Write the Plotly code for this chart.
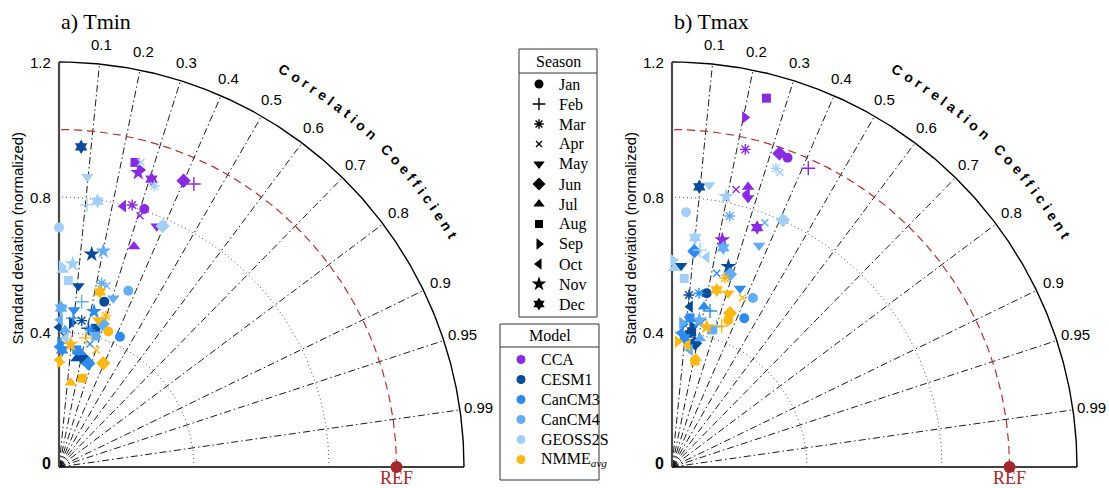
import numpy as np
import plotly.graph_objects as go

# ---------------- data ----------------
months = ["Jan", "Feb", "Mar", "Apr", "May", "Jun", "Jul", "Aug", "Sep", "Oct", "Nov", "Dec"]
month_symbols = ["circle", "cross-thin", "asterisk", "x-thin", "triangle-down", "diamond",
                 "triangle-up", "square", "triangle-right", "triangle-left", "star", "hexagram"]
models = ["CCA", "CESM1", "CanCM3", "CanCM4", "GEOSS2S", "NMME<sub><i>avg</i></sub>"]
model_colors = ["#8a2be2", "#084b98", "#2e8bee", "#62adf5", "#a3cff7", "#fdb913"]
corr_ticks = [0.1, 0.2, 0.3, 0.4, 0.5, 0.6, 0.7, 0.8, 0.9, 0.95, 0.99]
corr_labels = ["0.1", "0.2", "0.3", "0.4", "0.5", "0.6", "0.7", "0.8", "0.9", "0.95", "0.99"]
std_ticks = [0, 0.4, 0.8, 1.2]
std_labels = ["0", "0.4", "0.8", "1.2"]
panel_titles = ["a) Tmin", "b) Tmax"]

# Tmin (normalized std, correlation), Jan..Dec
tmin_cca_std = [0.805, 0.929, 0.806, 0.782, 0.770, 0.925, 0.690, 0.930, 0.914, 0.796, 0.903, 0.896]
tmin_cca_corr = [0.314, 0.430, 0.269, 0.307, 0.376, 0.399, 0.322, 0.242, 0.263, 0.239, 0.260, 0.306]
tmin_cesm1_std = [0.508, 0.420, 0.439, 0.389, 0.539, 0.330, 0.326, 0.425, 0.429, 0.414, 0.638, 0.951]
tmin_cesm1_corr = [0.264, 0.207, 0.153, 0.038, 0.106, 0.218, 0.161, 0.256, 0.088, 0.000, 0.152, 0.069]
tmin_cancm3_std = [0.426, 0.443, 0.416, 0.376, 0.467, 0.319, 0.346, 0.351, 0.367, 0.356, 0.472, 0.347]
tmin_cancm3_corr = [0.424, 0.094, 0.221, 0.244, 0.095, 0.272, 0.180, 0.150, 0.008, 0.000, 0.220, 0.026]
tmin_cancm4_std = [0.561, 0.494, 0.559, 0.555, 0.525, 0.443, 0.406, 0.403, 0.474, 0.436, 0.653, 0.471]
tmin_cancm4_corr = [0.366, 0.136, 0.226, 0.255, 0.306, 0.292, 0.044, 0.270, 0.019, 0.007, 0.201, 0.013]
tmin_geos_std = [0.710, 0.781, 0.879, 0.935, 0.864, 0.777, 0.584, 0.553, 0.594, 0.383, 0.603, 0.796]
tmin_geos_corr = [0.000, 0.106, 0.321, 0.260, 0.097, 0.395, 0.020, 0.050, 0.013, 0.054, 0.067, 0.143]
tmin_nmme_std = [0.427, 0.391, 0.469, 0.364, 0.451, 0.334, 0.252, 0.272, 0.311, 0.317, 0.365, 0.533]
tmin_nmme_corr = [0.342, 0.205, 0.297, 0.302, 0.258, 0.393, 0.137, 0.254, 0.010, 0.000, 0.095, 0.228]

# Tmax
tmax_cca_std = [0.978, 0.973, 0.966, 0.844, 0.828, 0.982, 0.860, 1.128, 1.058, 0.839, 0.689, 0.753]
tmax_cca_corr = [0.350, 0.415, 0.225, 0.225, 0.272, 0.324, 0.262, 0.248, 0.204, 0.265, 0.216, 0.335]
tmax_cesm1_std = [0.525, 0.382, 0.512, 0.438, 0.597, 0.373, 0.394, 0.405, 0.420, 0.478, 0.617, 0.834]
tmax_cesm1_corr = [0.196, 0.171, 0.098, 0.108, 0.045, 0.183, 0.113, 0.144, 0.143, 0.112, 0.271, 0.097]
tmax_cancm3_std = [0.490, 0.476, 0.521, 0.589, 0.566, 0.643, 0.484, 0.445, 0.424, 0.398, 0.438, 0.385]
tmax_cancm3_corr = [0.437, 0.237, 0.154, 0.225, 0.356, 0.103, 0.196, 0.120, 0.079, 0.067, 0.183, 0.095]
tmax_cancm4_std = [0.555, 0.436, 0.763, 0.774, 0.705, 0.596, 0.390, 0.423, 0.428, 0.351, 0.443, 0.667]
tmax_cancm4_corr = [0.432, 0.303, 0.224, 0.355, 0.366, 0.288, 0.213, 0.278, 0.069, 0.152, 0.183, 0.228]
tmax_geos_std = [0.756, 0.648, 0.937, 0.929, 0.843, 0.802, 0.589, 0.560, 0.613, 0.630, 0.817, 0.683]
tmax_geos_corr = [0.055, 0.128, 0.329, 0.344, 0.131, 0.410, 0.012, 0.065, 0.006, 0.163, 0.196, 0.100]
tmax_nmme_std = [0.466, 0.443, 0.581, 0.543, 0.541, 0.487, 0.330, 0.321, 0.372, 0.364, 0.428, 0.541]
tmax_nmme_corr = [0.358, 0.332, 0.270, 0.384, 0.308, 0.353, 0.213, 0.212, 0.045, 0.128, 0.240, 0.245]

panels = [
    [(tmin_cca_std, tmin_cca_corr), (tmin_cesm1_std, tmin_cesm1_corr), (tmin_cancm3_std, tmin_cancm3_corr),
     (tmin_cancm4_std, tmin_cancm4_corr), (tmin_geos_std, tmin_geos_corr), (tmin_nmme_std, tmin_nmme_corr)],
    [(tmax_cca_std, tmax_cca_corr), (tmax_cesm1_std, tmax_cesm1_corr), (tmax_cancm3_std, tmax_cancm3_corr),
     (tmax_cancm4_std, tmax_cancm4_corr), (tmax_geos_std, tmax_geos_corr), (tmax_nmme_std, tmax_nmme_corr)],
]

# ---------------- styling ----------------
W, H = 1109, 488
SCALE = 337.5  # px per unit
ORIGINS = [(59, 467), (672, 467)]
XR = [-0.15, 1.29]
YR = [-0.06, 1.30]
SANS = "Liberation Sans, Arial, sans-serif"
SERIF = "Liberation Serif, Times New Roman, serif"
REF_COLOR = "#a3282b"

sym_size = {"circle": 10, "cross-thin": 10, "asterisk": 9, "x-thin": 7, "triangle-down": 11,
            "diamond": 11, "triangle-up": 11, "square": 9, "triangle-right": 11,
            "triangle-left": 11, "star": 12, "hexagram": 11}
leg_size = {"circle": 9, "cross-thin": 9, "asterisk": 8, "x-thin": 6, "triangle-down": 10,
            "diamond": 10, "triangle-up": 10, "square": 8, "triangle-right": 10,
            "triangle-left": 10, "star": 11, "hexagram": 10}
thin = {"cross-thin", "asterisk", "x-thin"}

fig = go.Figure()
annotations = []
shapes = []
layout_axes = {}


def arc(r, n=240):
    t = np.linspace(0, np.pi / 2, n)
    return r * np.cos(t), r * np.sin(t)


bold_w = {"C": .722, "o": .611, "r": .389, "e": .556, "l": .278, "a": .556, "t": .333,
          "i": .278, "n": .611, " ": .278, "f": .333, "c": .556}

for p in range(2):
    ox, oy = ORIGINS[p]
    xa = "x" if p == 0 else "x2"
    ya = "y" if p == 0 else "y2"
    xd0 = ox + XR[0] * SCALE
    xd1 = ox + XR[1] * SCALE
    yd0 = oy - YR[0] * SCALE
    yd1 = oy - YR[1] * SCALE
    key = "" if p == 0 else "2"
    layout_axes["xaxis" + key] = dict(domain=[xd0 / W, xd1 / W], range=XR, visible=False,
                                      fixedrange=True, anchor=ya)
    layout_axes["yaxis" + key] = dict(domain=[(H - yd0) / H, (H - yd1) / H], range=YR,
                                      visible=False, fixedrange=True, anchor=xa)

    # dotted std arcs
    for r in [0.4, 0.8]:
        ax_, ay_ = arc(r)
        fig.add_trace(go.Scatter(x=ax_, y=ay_, mode="lines", xaxis=xa, yaxis=ya, showlegend=False,
                                 line=dict(color="#555555", width=1, dash="1px,3px"), hoverinfo="skip"))
    # correlation lines
    lx, ly = [], []
    for c in corr_ticks:
        lx += [0, 1.2 * c, None]
        ly += [0, 1.2 * np.sqrt(1 - c * c), None]
    fig.add_trace(go.Scatter(x=lx, y=ly, mode="lines", xaxis=xa, yaxis=ya, showlegend=False,
                             line=dict(color="black", width=0.9, dash="7px,3px,1.5px,3px"),
                             hoverinfo="skip"))
    # REF arc
    ax_, ay_ = arc(1.0)
    fig.add_trace(go.Scatter(x=ax_, y=ay_, mode="lines", xaxis=xa, yaxis=ya, showlegend=False,
                             line=dict(color="#b03030", width=1.2, dash="8px,5px"), hoverinfo="skip"))
    # outer arc
    ax_, ay_ = arc(1.2)
    fig.add_trace(go.Scatter(x=ax_, y=ay_, mode="lines", xaxis=xa, yaxis=ya, showlegend=False,
                             line=dict(color="black", width=1.4), hoverinfo="skip"))
    # axes
    fig.add_trace(go.Scatter(x=[0, 1.2], y=[0, 0], mode="lines", xaxis=xa, yaxis=ya, showlegend=False,
                             line=dict(color="black", width=1.4), hoverinfo="skip"))
    fig.add_trace(go.Scatter(x=[0, 0], y=[0, 1.2], mode="lines", xaxis=xa, yaxis=ya, showlegend=False,
                             line=dict(color="#4a4a4a", width=2.2), hoverinfo="skip"))

    # data
    for m in range(len(models)):
        std, corr = panels[p][m]
        std = np.array(std)
        corr = np.array(corr)
        px = std * corr
        py = std * np.sqrt(1 - corr ** 2)
        fig.add_trace(go.Scatter(
            x=px, y=py, mode="markers", xaxis=xa, yaxis=ya, showlegend=False, cliponaxis=False,
            marker=dict(symbol=month_symbols, color=model_colors[m], opacity=1,
                        size=[sym_size[s] for s in month_symbols],
                        line=dict(color=model_colors[m],
                                  width=[1.4 if s in thin else 0 for s in month_symbols])),
            text=months, name=models[m]))

    # REF point
    fig.add_trace(go.Scatter(x=[1.0], y=[0.0], mode="markers", xaxis=xa, yaxis=ya, showlegend=False,
                             cliponaxis=False, marker=dict(color=REF_COLOR, size=12, opacity=1)))

    # y tick labels
    for v, lab in zip(std_ticks, std_labels):
        annotations.append(dict(x=0, y=v, xref=xa, yref=ya, text=("<b>0</b>" if v == 0 else lab),
                                showarrow=False, xanchor="right", yanchor="middle", xshift=-6,
                                yshift=(4 if v == 0 else 0),
                                font=dict(family=SANS, size=(16 if v == 0 else 15), color="black")))
    # correlation labels
    for c, lab in zip(corr_ticks, corr_labels):
        r = 1.257
        annotations.append(dict(x=r * c, y=r * np.sqrt(1 - c * c), xref=xa, yref=ya, text=lab,
                                showarrow=False, xanchor="center", yanchor="middle",
                                font=dict(family=SANS, size=15, color="black")))
    # curved axis title
    title = "Correlation Coefficient"
    fs, track = 14, 4.3
    r_txt = 1.352
    rpx = r_txt * SCALE
    theta0 = np.deg2rad(60.4)
    s = 0.0
    for i, ch in enumerate(title):
        w = bold_w[ch] * fs
        if i > 0:
            s += (bold_w[title[i - 1]] * fs) / 2 + track + w / 2
        th = theta0 - s / rpx
        if ch == " ":
            continue
        annotations.append(dict(x=r_txt * np.cos(th), y=r_txt * np.sin(th), xref=xa, yref=ya,
                                text="<b>%s</b>" % ch, showarrow=False, xanchor="center",
                                yanchor="middle", textangle=90 - np.rad2deg(th),
                                font=dict(family=SANS, size=fs, color="black")))
    # panel title (paper coordinates)
    annotations.append(dict(x=ox / W, y=(H - 21) / H, xref="paper", yref="paper", text=panel_titles[p],
                            showarrow=False, xanchor="left", yanchor="middle",
                            font=dict(family=SERIF, size=22, color="black")))
    # y title
    annotations.append(dict(x=-0.1215, y=0.68, xref=xa, yref=ya, text="Standard deviation (normalized)",
                            showarrow=False, textangle=-90, xanchor="center", yanchor="middle",
                            font=dict(family=SANS, size=15, color="black")))
    # REF label
    annotations.append(dict(x=1.0, y=0, xref=xa, yref=ya, text="REF", showarrow=False,
                            xanchor="center", yanchor="middle", yshift=-11,
                            font=dict(family=SERIF, size=18, color=REF_COLOR)))

# ---------------- legend boxes (pixel overlay axis) ----------------
layout_axes["xaxis3"] = dict(domain=[0, 1], range=[0, W], visible=False, fixedrange=True, anchor="y3")
layout_axes["yaxis3"] = dict(domain=[0, 1], range=[H, 0], visible=False, fixedrange=True, anchor="x3")

# Season box
sb = dict(x0=519, x1=597, y0=49, y1=317, sep=73, row0=84, dy=20, mx=539, tx=557)
shapes.append(dict(type="rect", xref="x3", yref="y3", x0=sb["x0"], x1=sb["x1"], y0=sb["y0"], y1=sb["y1"],
                   line=dict(color="#333333", width=1)))
shapes.append(dict(type="line", xref="x3", yref="y3", x0=sb["x0"], x1=sb["x1"], y0=sb["sep"], y1=sb["sep"],
                   line=dict(color="#333333", width=1)))
annotations.append(dict(x=(sb["x0"] + sb["x1"]) / 2, y=61.5, xref="x3", yref="y3", text="Season",
                        showarrow=False, xanchor="center", yanchor="middle",
                        font=dict(family=SERIF, size=16, color="black")))
ys = [sb["row0"] + sb["dy"] * i for i in range(len(months))]
fig.add_trace(go.Scatter(x=[sb["mx"]] * len(months), y=ys, mode="markers", xaxis="x3", yaxis="y3",
                         showlegend=False, cliponaxis=False, hoverinfo="skip",
                         marker=dict(symbol=month_symbols, color="black", opacity=1,
                                     size=[leg_size[s] for s in month_symbols],
                                     line=dict(color="black",
                                               width=[1.4 if s in thin else 0 for s in month_symbols]))))
for yv, mo in zip(ys, months):
    annotations.append(dict(x=sb["tx"], y=yv, xref="x3", yref="y3", text=mo, showarrow=False,
                            xanchor="left", yanchor="middle",
                            font=dict(family=SERIF, size=16, color="black")))

# Model box
mb = dict(x0=500, x1=599, y0=324, y1=480, sep=347, row0=359.5, dy=20, mx=521, tx=539)
shapes.append(dict(type="rect", xref="x3", yref="y3", x0=mb["x0"], x1=mb["x1"], y0=mb["y0"], y1=mb["y1"],
                   line=dict(color="#333333", width=1)))
shapes.append(dict(type="line", xref="x3", yref="y3", x0=mb["x0"], x1=mb["x1"], y0=mb["sep"], y1=mb["sep"],
                   line=dict(color="#333333", width=1)))
annotations.append(dict(x=(mb["x0"] + mb["x1"]) / 2, y=335, xref="x3", yref="y3", text="Model",
                        showarrow=False, xanchor="center", yanchor="middle",
                        font=dict(family=SERIF, size=16, color="black")))
ys = [mb["row0"] + mb["dy"] * i for i in range(len(models))]
fig.add_trace(go.Scatter(x=[mb["mx"]] * len(models), y=ys, mode="markers", xaxis="x3", yaxis="y3",
                         showlegend=False, cliponaxis=False, hoverinfo="skip",
                         marker=dict(symbol="circle", color=model_colors, size=9, opacity=1)))
for yv, mo in zip(ys, models):
    annotations.append(dict(x=mb["tx"], y=yv, xref="x3", yref="y3", text=mo, showarrow=False,
                            xanchor="left", yanchor="middle",
                            font=dict(family=SERIF, size=16, color="black")))

fig.update_layout(
    width=W, height=H, autosize=False,
    margin=dict(l=0, r=0, t=0, b=0, pad=0),
    paper_bgcolor="white", plot_bgcolor="rgba(0,0,0,0)",
    showlegend=False, annotations=annotations, shapes=shapes,
    hovermode="closest",
    **layout_axes,
)

fig.write_html("out.html", config={"displayModeBar": False},
               post_script="document.body.style.margin='0';document.body.style.overflow='hidden';")
